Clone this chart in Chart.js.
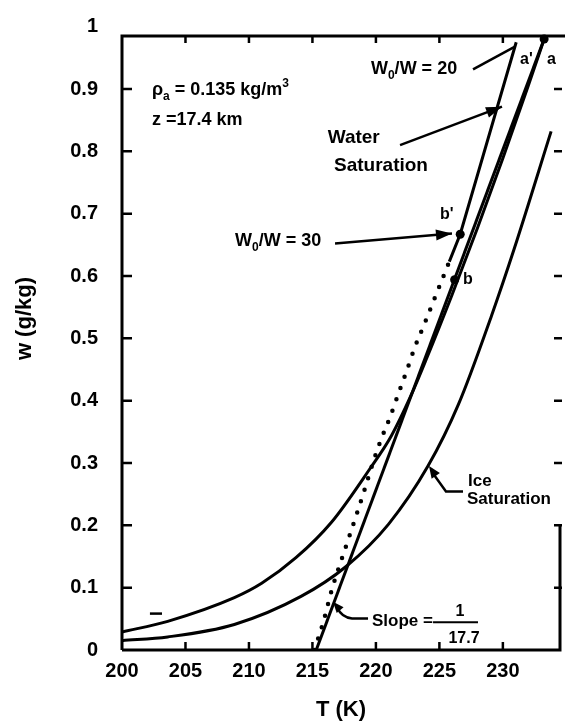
<!DOCTYPE html>
<html>
<head>
<meta charset="utf-8">
<script src="https://cdn.jsdelivr.net/npm/chart.js@4.4.1/dist/chart.umd.min.js"></script>
<style>
html,body{margin:0;padding:0;background:#ffffff;}
#wrap{width:565px;height:728px;position:relative;}
</style>
</head>
<body>
<div id="wrap"><canvas id="c" width="565" height="728"></canvas></div>
<script>
// ---------------- data ----------------
const xTickValues = [200, 205, 210, 215, 220, 225, 230];
const xTickLabels = ['200', '205', '210', '215', '220', '225', '230'];
const yTickValues = [0, 0.1, 0.2, 0.3, 0.4, 0.5, 0.6, 0.7, 0.8, 0.9, 1];
const yTickLabels = ['0', '0.1', '0.2', '0.3', '0.4', '0.5', '0.6', '0.7', '0.8', '0.9', '1'];

// water saturation curve
const waterT = [200, 203.6, 208.85, 211, 213.7, 216.5, 219.5, 221.2, 222.8, 224, 226, 228, 230, 232, 233.25];
const waterW = [0.029, 0.046, 0.084, 0.107, 0.148, 0.205, 0.29, 0.343, 0.41, 0.468, 0.570, 0.677, 0.789, 0.905, 0.98];

// ice saturation curve
const iceT = [200, 203.6, 208.85, 214.1, 217.65, 221, 224.1, 226.5, 229.1, 230.9, 233.8];
const iceW = [0.015, 0.021, 0.041, 0.086, 0.134, 0.202, 0.295, 0.394, 0.536, 0.644, 0.832];

// straight mixing line, slope = 1/17.7
const mixT = [215.3, 233.25];
const mixW = [0, 0.98];

// dotted path
const dotT = [215.15, 215.8, 216.6, 217.26, 217.9, 218.52, 219.15, 219.76, 220.41, 221.14, 221.8, 222.46, 223.09, 223.82, 224.56, 225.27, 225.78];
const dotW = [0, 0.041, 0.102, 0.143, 0.182, 0.22, 0.26, 0.30, 0.338, 0.375, 0.413, 0.45, 0.487, 0.523, 0.561, 0.597, 0.623];

// solid continuation b' -> a'
const solidT = [225.78, 226.64, 231.05];
const solidW = [0.623, 0.667, 0.975];

// labelled points a, b', b
const markNames = ['a', "b'", 'b'];
const markT = [233.25, 226.64, 226.2];
const markW = [0.98, 0.667, 0.594];

// ---------------- annotation layout (data units) ----------------
const FONT = '"Liberation Sans", Arial, Helvetica, sans-serif';
const texts = [
  {T: 202.36, W: 0.8906, parts: [['ρ', 18], ['a', 12, 5], [' = 0.135 kg/m', 18], ['3', 12, -8]]},
  {T: 202.36, W: 0.8417, parts: [['z =17.4 km', 18]]},
  {T: 216.2, W: 0.813, parts: [['Water', 19]]},
  {T: 216.7, W: 0.769, parts: [['Saturation', 19]]},
  {T: 219.61, W: 0.9237, parts: [['W', 18], ['0', 12, 5], ['/W = 20', 18]]},
  {T: 231.35, W: 0.9395, parts: [["a'", 16]]},
  {T: 233.47, W: 0.9395, parts: [['a', 16]]},
  {T: 208.9, W: 0.6474, parts: [['W', 18], ['0', 12, 5], ['/W = 30', 18]]},
  {T: 225.05, W: 0.6916, parts: [["b'", 16]]},
  {T: 226.86, W: 0.5874, parts: [['b', 16]]},
  {T: 227.25, W: 0.2637, parts: [['Ice', 17]]},
  {T: 227.17, W: 0.2337, parts: [['Saturation', 17]]},
  {T: 219.69, W: 0.0379, parts: [['Slope =', 17]]},
  {T: 226.62, W: 0.0553, parts: [['1', 16]], center: true},
  {T: 226.94, W: 0.011, parts: [['17.7', 16]], center: true}
];

const plugin = {
  id: 'figureDecor',
  afterDatasetsDraw(chart) {
    const {ctx, chartArea: a, scales: {x, y}} = chart;
    const px = t => x.getPixelForValue(t);
    const py = w => y.getPixelForValue(w);
    ctx.save();
    ctx.strokeStyle = '#000';
    ctx.fillStyle = '#000';
    ctx.lineCap = 'butt';

    // frame
    ctx.lineWidth = 3;
    ctx.beginPath();
    ctx.moveTo(a.left, a.bottom); ctx.lineTo(a.left, a.top);
    ctx.lineTo(chart.width, a.top);
    ctx.moveTo(a.left, a.bottom); ctx.lineTo(a.right, a.bottom);
    ctx.lineTo(a.right, py(0.2));
    ctx.stroke();

    // inward ticks
    ctx.lineWidth = 2.5;
    ctx.beginPath();
    xTickValues.forEach(v => {
      if (v <= x.min) return;
      const X = px(v);
      ctx.moveTo(X, a.bottom); ctx.lineTo(X, a.bottom - 8);
      ctx.moveTo(X, a.top); ctx.lineTo(X, a.top + 7);
    });
    yTickValues.forEach(v => {
      if (v <= 0 || v >= y.max) return;
      const Y = py(v);
      ctx.moveTo(a.left, Y); ctx.lineTo(a.left + 10, Y);
      ctx.moveTo(a.right + 2, Y); ctx.lineTo(a.right - 6, Y);
    });
    ctx.stroke();

    // small dash near lower left
    ctx.lineWidth = 2.5;
    ctx.beginPath();
    ctx.moveTo(px(202.2), py(0.0584)); ctx.lineTo(px(203.15), py(0.0584));
    ctx.stroke();

    // texts
    ctx.textBaseline = 'alphabetic';
    texts.forEach(tx => {
      let total = 0;
      tx.parts.forEach(p => { ctx.font = `bold ${p[1]}px ${FONT}`; total += ctx.measureText(p[0]).width; });
      let cx = px(tx.T) - (tx.center ? total / 2 : 0);
      const cy = py(tx.W);
      tx.parts.forEach(p => {
        ctx.font = `bold ${p[1]}px ${FONT}`;
        ctx.textAlign = 'left';
        ctx.fillText(p[0], cx, cy + (p[2] || 0));
        cx += ctx.measureText(p[0]).width;
      });
    });

    // fraction bar
    ctx.lineWidth = 2;
    ctx.beginPath();
    ctx.moveTo(px(224.5), py(0.0447)); ctx.lineTo(px(228.04), py(0.0447));
    ctx.stroke();

    function head(x1, y1, x2, y2, len, wid) {
      const ang = Math.atan2(y2 - y1, x2 - x1);
      ctx.beginPath();
      ctx.moveTo(x2, y2);
      ctx.lineTo(x2 - len * Math.cos(ang) + wid * Math.sin(ang), y2 - len * Math.sin(ang) - wid * Math.cos(ang));
      ctx.lineTo(x2 - len * Math.cos(ang) - wid * Math.sin(ang), y2 - len * Math.sin(ang) + wid * Math.cos(ang));
      ctx.closePath();
      ctx.fill();
    }
    function arrow(T1, W1, T2, W2, len, wid) {
      const x1 = px(T1), y1 = py(W1), x2 = px(T2), y2 = py(W2);
      ctx.lineWidth = 2.5;
      ctx.beginPath(); ctx.moveTo(x1, y1); ctx.lineTo(x2, y2); ctx.stroke();
      if (len) head(x1, y1, x2, y2, len, wid);
    }
    // Water Saturation arrow
    arrow(221.9, 0.810, 229.93, 0.8716, 16, 5.5);
    // W0/W = 20 pointer
    arrow(227.65, 0.9316, 230.95, 0.968, 0, 0);
    // W0/W = 30 arrow
    arrow(216.78, 0.6521, 225.99, 0.668, 16, 5.5);

    // Ice Saturation hooked arrow
    ctx.lineWidth = 2.5;
    ctx.beginPath();
    ctx.moveTo(px(226.86), py(0.2542));
    ctx.lineTo(px(225.52), py(0.2542));
    ctx.lineTo(px(224.5), py(0.283));
    ctx.stroke();
    head(px(225.3), py(0.262), px(224.18), py(0.2953), 12, 5);

    // Slope hooked arrow
    ctx.beginPath();
    ctx.moveTo(px(219.38), py(0.0505));
    ctx.lineTo(px(218.12), py(0.0505));
    ctx.quadraticCurveTo(px(217.3), py(0.052), px(216.95), py(0.068));
    ctx.stroke();
    head(px(217.6), py(0.054), px(216.62), py(0.0774), 11, 4.5);

    ctx.restore();
  }
};

const xy = (T, W) => T.map((t, i) => ({x: t, y: W[i]}));
const lineStyle = {showLine: true, borderColor: '#000', backgroundColor: '#000', borderWidth: 3, pointRadius: 0, fill: false};

new Chart(document.getElementById('c'), {
  type: 'scatter',
  data: {
    datasets: [
      Object.assign({label: 'Water Saturation', data: xy(waterT, waterW), cubicInterpolationMode: 'monotone'}, lineStyle),
      Object.assign({label: 'Ice Saturation', data: xy(iceT, iceW), cubicInterpolationMode: 'monotone'}, lineStyle),
      Object.assign({label: 'Slope = 1/17.7', data: xy(mixT, mixW)}, lineStyle),
      Object.assign({}, lineStyle, {label: 'Dotted path', data: xy(dotT, dotW), borderWidth: 4.5, borderDash: [0, 12], borderCapStyle: 'round', cubicInterpolationMode: 'monotone'}),
      Object.assign({label: "b' to a'", data: xy(solidT, solidW)}, lineStyle),
      {label: 'Points', data: xy(markT, markW), showLine: false, pointRadius: 4.5, pointBackgroundColor: '#000', pointBorderColor: '#000', pointBorderWidth: 0, clip: false}
    ]
  },
  options: {
    responsive: false,
    animation: false,
    devicePixelRatio: 1,
    layout: {padding: {top: 25, right: 5, bottom: 0, left: 0}},
    plugins: {legend: {display: false}, tooltip: {enabled: false}},
    scales: {
      x: {
        type: 'linear', min: 200, max: 234.5,
        grid: {display: false, drawTicks: false},
        border: {display: false},
        afterBuildTicks: s => { s.ticks = xTickValues.map(v => ({value: v})); },
        afterFit: s => { s.height = 78; },
        ticks: {
          autoSkip: false, maxRotation: 0, padding: 9, color: '#000',
          font: {family: FONT, size: 20, weight: 'bold'},
          callback: (v, i) => xTickLabels[i]
        },
        title: {display: true, text: 'T (K)', color: '#000', font: {family: FONT, size: 22, weight: 'bold'}, padding: {top: 0, bottom: 5}}
      },
      y: {
        type: 'linear', min: 0, max: 0.985,
        grid: {display: false, drawTicks: false},
        border: {display: false},
        afterBuildTicks: s => { s.ticks = yTickValues.map(v => ({value: v})); },
        afterFit: s => { s.width = 122; },
        ticks: {
          autoSkip: false, padding: 24, color: '#000',
          font: {family: FONT, size: 20, weight: 'bold'},
          callback: (v, i) => yTickLabels[i]
        },
        title: {display: true, text: '        w (g/kg)', color: '#000', font: {family: FONT, size: 22, weight: 'bold'}, padding: {top: 12, bottom: 0}}
      }
    }
  },
  plugins: [plugin]
});
</script>
</body>
</html>
